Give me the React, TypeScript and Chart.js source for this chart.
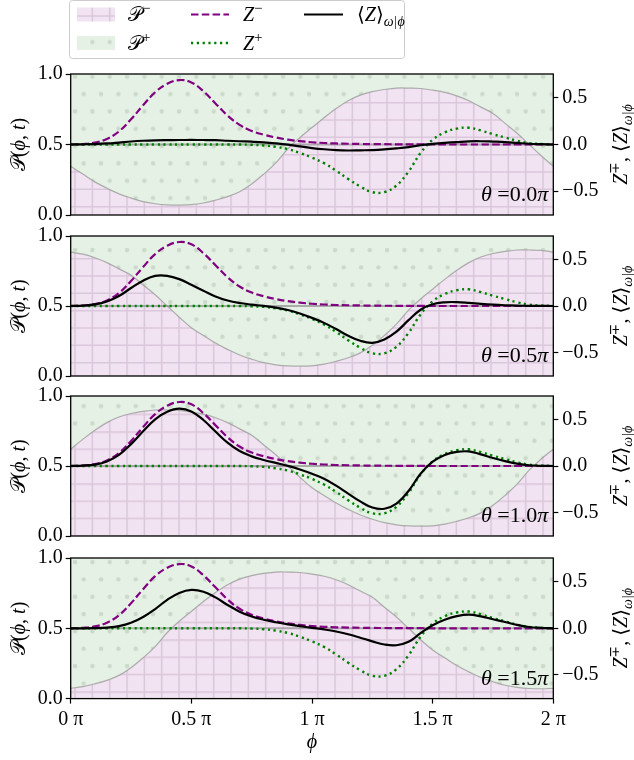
import React, { useEffect, useRef } from 'react';
import { Chart, registerables } from 'chart.js';

Chart.register(...registerables);

// ---------- data (phi in units of pi) ----------
const phi = [0, 0.05, 0.1, 0.15, 0.2, 0.25, 0.3, 0.35, 0.4, 0.45, 0.5, 0.55, 0.6, 0.65, 0.7, 0.75, 0.8, 0.85, 0.9, 0.95, 1, 1.05, 1.1, 1.15, 1.2, 1.25, 1.3, 1.35, 1.4, 1.45, 1.5, 1.55, 1.6, 1.65, 1.7, 1.75, 1.8, 1.85, 1.9, 1.95, 2];

const zMinus = [0, 0.005, 0.02, 0.06, 0.14, 0.27, 0.42, 0.56, 0.65, 0.69, 0.665, 0.57, 0.44, 0.31, 0.21, 0.145, 0.105, 0.075, 0.052, 0.036, 0.024, 0.016, 0.011, 0.008, 0.006, 0.004, 0.003, 0.002, 0.001, 0.001, 0, 0, 0, 0, 0, 0, 0, 0, 0, 0, 0];

const zPlus = [0, 0, 0, 0, 0, 0, 0, 0, 0, 0, 0, 0, 0, 0, 0, -0.003, -0.01, -0.025, -0.05, -0.09, -0.14, -0.2, -0.28, -0.37, -0.45, -0.51, -0.51, -0.44, -0.29, -0.09, 0.05, 0.13, 0.17, 0.18, 0.15, 0.11, 0.075, 0.04, 0.015, 0.005, 0];

// boundary between P- (below) and P+ (above), per theta
const pMinusTheta00 = [0.345, 0.29, 0.235, 0.19, 0.15, 0.12, 0.095, 0.08, 0.072, 0.07, 0.073, 0.085, 0.105, 0.13, 0.165, 0.22, 0.29, 0.37, 0.47, 0.55, 0.62, 0.69, 0.755, 0.81, 0.85, 0.875, 0.89, 0.9, 0.9, 0.897, 0.885, 0.87, 0.845, 0.81, 0.765, 0.72, 0.65, 0.58, 0.5, 0.42, 0.345];
const pMinusTheta05 = [0.885, 0.87, 0.845, 0.81, 0.765, 0.72, 0.65, 0.58, 0.5, 0.42, 0.345, 0.29, 0.235, 0.19, 0.15, 0.12, 0.095, 0.08, 0.072, 0.07, 0.073, 0.085, 0.105, 0.13, 0.165, 0.22, 0.29, 0.37, 0.47, 0.55, 0.62, 0.69, 0.755, 0.81, 0.85, 0.875, 0.89, 0.9, 0.9, 0.897, 0.885];
const pMinusTheta10 = [0.62, 0.69, 0.755, 0.81, 0.85, 0.875, 0.89, 0.9, 0.9, 0.897, 0.885, 0.87, 0.845, 0.81, 0.765, 0.72, 0.65, 0.58, 0.5, 0.42, 0.345, 0.29, 0.235, 0.19, 0.15, 0.12, 0.095, 0.08, 0.072, 0.07, 0.073, 0.085, 0.105, 0.13, 0.165, 0.22, 0.29, 0.37, 0.47, 0.55, 0.62];
const pMinusTheta15 = [0.073, 0.085, 0.105, 0.13, 0.165, 0.22, 0.29, 0.37, 0.47, 0.55, 0.62, 0.69, 0.755, 0.81, 0.85, 0.875, 0.89, 0.9, 0.9, 0.897, 0.885, 0.87, 0.845, 0.81, 0.765, 0.72, 0.65, 0.58, 0.5, 0.42, 0.345, 0.29, 0.235, 0.19, 0.15, 0.12, 0.095, 0.08, 0.072, 0.07, 0.073];

// <Z>_{omega|phi}, per theta
const zMeanTheta00 = [0, 0.002, 0.005, 0.011, 0.021, 0.032, 0.04, 0.045, 0.047, 0.048, 0.0485, 0.048, 0.046, 0.04, 0.035, 0.03, 0.023, 0.012, -0.002, -0.021, -0.038, -0.051, -0.06, -0.064, -0.062, -0.06, -0.053, -0.042, -0.028, -0.008, 0.006, 0.017, 0.026, 0.034, 0.035, 0.031, 0.026, 0.017, 0.008, 0.003, 0];
const zMeanTheta05 = [0, 0.004, 0.017, 0.049, 0.107, 0.194, 0.273, 0.325, 0.325, 0.29, 0.229, 0.165, 0.103, 0.059, 0.032, 0.015, 0.001, -0.017, -0.043, -0.081, -0.128, -0.182, -0.249, -0.321, -0.375, -0.397, -0.361, -0.277, -0.153, -0.04, 0.019, 0.04, 0.042, 0.034, 0.023, 0.014, 0.008, 0.004, 0.002, 0.001, 0];
const zMeanTheta10 = [0, 0.004, 0.015, 0.049, 0.119, 0.236, 0.374, 0.504, 0.585, 0.619, 0.589, 0.496, 0.372, 0.251, 0.161, 0.104, 0.065, 0.033, 0.001, -0.037, -0.083, -0.137, -0.212, -0.298, -0.382, -0.448, -0.461, -0.405, -0.269, -0.084, 0.046, 0.119, 0.152, 0.157, 0.125, 0.086, 0.053, 0.025, 0.008, 0.002, 0];
const zMeanTheta15 = [0, 0, 0.002, 0.008, 0.023, 0.059, 0.122, 0.207, 0.306, 0.38, 0.412, 0.393, 0.332, 0.251, 0.179, 0.127, 0.092, 0.065, 0.042, 0.023, 0.005, -0.012, -0.034, -0.064, -0.101, -0.14, -0.174, -0.182, -0.145, -0.052, 0.033, 0.092, 0.13, 0.146, 0.128, 0.097, 0.068, 0.037, 0.014, 0.005, 0];

const zeroLine = [0, 0, 0, 0, 0, 0, 0, 0, 0, 0, 0, 0, 0, 0, 0, 0, 0, 0, 0, 0, 0, 0, 0, 0, 0, 0, 0, 0, 0, 0, 0, 0, 0, 0, 0, 0, 0, 0, 0, 0, 0];

const thetaLabels = ['0.0', '0.5', '1.0', '1.5'];
const xTicks = [0, 0.5, 1, 1.5, 2];
const xTickLabels = ['0 π', '0.5 π', '1 π', '1.5 π', '2 π'];
const leftTicks = [0, 0.5, 1];
const rightTicks = [-0.5, 0, 0.5];

const boundaries = [pMinusTheta00, pMinusTheta05, pMinusTheta10, pMinusTheta15];
const means = [zMeanTheta00, zMeanTheta05, zMeanTheta10, zMeanTheta15];

// ---------- layout ----------
const W = 634;
const H = 760;
const AREA_L = 70.7;
const AREA_R = 553.3;
const PANEL_TOPS = [74, 234.5, 394.5, 556];
const PANEL_H = 142.6;
const Z_LIM = 0.755;
const SERIF = '"Liberation Serif", "DejaVu Serif", serif';
const PURPLE = '#800080';
const GREEN = '#008000';

type Part = { t: string; it?: boolean; sc?: number; dy?: number };

function drawRich(ctx: CanvasRenderingContext2D, parts: Part[], x: number, y: number, size: number, align: 'left' | 'center' | 'right') {
  const font = (p: Part) => `${p.it ? 'italic ' : ''}${(size * (p.sc ?? 1)).toFixed(2)}px ${SERIF}`;
  let total = 0;
  const widths = parts.map((p) => {
    ctx.font = font(p);
    const w = ctx.measureText(p.t).width;
    total += w;
    return w;
  });
  let cx = align === 'left' ? x : align === 'center' ? x - total / 2 : x - total;
  ctx.textAlign = 'left';
  ctx.textBaseline = 'alphabetic';
  parts.forEach((p, k) => {
    ctx.font = font(p);
    ctx.fillText(p.t, cx, y + (p.dy ?? 0) * size);
    cx += widths[k];
  });
}

function mod(a: number, m: number) {
  return ((a % m) + m) % m;
}

function makeHatch(ctx: CanvasRenderingContext2D, canvasTop: number) {
  const t = document.createElement('canvas');
  t.width = 52;
  t.height = 52;
  const g = t.getContext('2d')!;
  g.fillStyle = '#f1e3f1';
  g.fillRect(0, 0, 52, 52);
  g.strokeStyle = '#dbc7db';
  g.lineWidth = 1.5;
  for (let k = 0; k < 3; k++) {
    const p = (k * 52) / 3 + 1;
    g.beginPath();
    g.moveTo(p, 0);
    g.lineTo(p, 52);
    g.moveTo(0, p);
    g.lineTo(52, p);
    g.stroke();
  }
  const pat = ctx.createPattern(t, 'repeat')!;
  pat.setTransform(new DOMMatrix().translate(74, mod(189.3 - canvasTop - 1, 52 / 3)));
  return pat;
}

function makeDots(ctx: CanvasRenderingContext2D, canvasTop: number) {
  const t = document.createElement('canvas');
  t.width = 52;
  t.height = 104;
  const g = t.getContext('2d')!;
  g.fillStyle = '#e4f1e4';
  g.fillRect(0, 0, 52, 104);
  g.fillStyle = '#cbdacb';
  for (let j = 0; j < 6; j++) {
    const y = (j * 104) / 6 + 3;
    const off = j % 2 ? 26 / 3 : 0;
    for (let k = 0; k < 3; k++) {
      const x = (k * 52) / 3 + off + 3;
      g.beginPath();
      g.arc(x, y, 2.2, 0, Math.PI * 2);
      g.fill();
    }
  }
  const pat = ctx.createPattern(t, 'repeat')!;
  pat.setTransform(new DOMMatrix().translate(72, mod(76.7 - 3 - canvasTop, 104 / 3)));
  return pat;
}

const geoms = PANEL_TOPS.map((top, i) => {
  const bottom = top + PANEL_H;
  const cTop = i === 0 ? 0 : Math.floor(top - 14);
  const cBottom = i === 3 ? H : Math.ceil(bottom + 14);
  return { top, bottom, cTop, h: cBottom - cTop };
});

const pts = (ys: number[]) => phi.map((x, j) => ({ x, y: ys[j] }));

export default function App() {
  const canvases = useRef<(HTMLCanvasElement | null)[]>([]);

  useEffect(() => {
    const charts: Chart[] = [];
    geoms.forEach((g, i) => {
      const canvas = canvases.current[i];
      if (!canvas) return;
      const ctx = canvas.getContext('2d')!;
      const hatch = makeHatch(ctx, g.cTop);
      const dots = makeDots(ctx, g.cTop);
      const padTop = g.top - g.cTop;
      const padBottom = i === 3 ? 0 : g.cTop + g.h - g.bottom;

      const decor = {
        id: 'decor' + i,
        afterDatasetsDraw(chart: any) {
          const c = chart.ctx as CanvasRenderingContext2D;
          const a = chart.chartArea;
          c.save();
          c.strokeStyle = '#000';
          c.lineWidth = 1.3;
          c.strokeRect(a.left, a.top, a.right - a.left, a.bottom - a.top);
          c.fillStyle = '#000';
          drawRich(c, [{ t: 'θ', it: true }, { t: ' =' + thetaLabels[i] }, { t: 'π', it: true }], a.right - 5, a.bottom - 14, 22, 'right');
          c.restore();
        },
        afterDraw(chart: any) {
          const c = chart.ctx as CanvasRenderingContext2D;
          const a = chart.chartArea;
          const cy = (a.top + a.bottom) / 2;
          c.save();
          c.fillStyle = '#000';
          // left title
          c.save();
          c.translate(18, cy);
          c.rotate(-Math.PI / 2);
          drawRich(c, [{ t: '𝒫' }, { t: '(' }, { t: 'ϕ', it: true }, { t: ', ' }, { t: 't', it: true }, { t: ')' }], 0, 7, 20, 'center');
          c.restore();
          // right title
          c.save();
          c.translate(620, cy);
          c.rotate(-Math.PI / 2);
          drawRich(c, [{ t: 'Z', it: true }, { t: '∓', sc: 0.7, dy: -0.38 }, { t: ', ⟨' }, { t: 'Z', it: true }, { t: '⟩' }, { t: 'ω|ϕ', it: true, sc: 0.7, dy: 0.25 }], 0, 7, 20, 'center');
          c.restore();
          if (i === 3) {
            drawRich(c, [{ t: 'ϕ', it: true }], (a.left + a.right) / 2, H - 12 - g.cTop, 20, 'center');
          }
          if (i === 0) {
            // legend
            c.save();
            c.beginPath();
            c.roundRect(69.5, 0.5, 335, 58, 3);
            c.fillStyle = 'rgba(255,255,255,0.8)';
            c.fill();
            c.strokeStyle = '#cccccc';
            c.lineWidth = 1;
            c.stroke();
            const r1 = 14.5;
            const r2 = 43;
            c.fillStyle = hatch;
            c.fillRect(77, r1 - 7, 38, 14);
            c.fillStyle = dots;
            c.fillRect(77, r2 - 7, 38, 14);
            c.lineWidth = 2.2;
            c.strokeStyle = PURPLE;
            c.setLineDash([7.5, 3.3]);
            c.beginPath();
            c.moveTo(191, r1);
            c.lineTo(229, r1);
            c.stroke();
            c.strokeStyle = GREEN;
            c.lineWidth = 2.4;
            c.setLineDash([2.2, 3.6]);
            c.beginPath();
            c.moveTo(191, r2);
            c.lineTo(229, r2);
            c.stroke();
            c.setLineDash([]);
            c.strokeStyle = '#000';
            c.lineWidth = 2.2;
            c.beginPath();
            c.moveTo(304, r1);
            c.lineTo(343, r1);
            c.stroke();
            c.fillStyle = '#000';
            drawRich(c, [{ t: '𝒫' }, { t: '−', sc: 0.75, dy: -0.4 }], 128, r1 + 6.5, 20, 'left');
            drawRich(c, [{ t: '𝒫' }, { t: '+', sc: 0.75, dy: -0.4 }], 128, r2 + 6.5, 20, 'left');
            drawRich(c, [{ t: 'Z', it: true }, { t: '−', sc: 0.75, dy: -0.4 }], 243, r1 + 6.5, 20, 'left');
            drawRich(c, [{ t: 'Z', it: true }, { t: '+', sc: 0.75, dy: -0.4 }], 243, r2 + 6.5, 20, 'left');
            drawRich(c, [{ t: '⟨' }, { t: 'Z', it: true }, { t: '⟩' }, { t: 'ω|ϕ', it: true, sc: 0.7, dy: 0.25 }], 357, r1 + 6.5, 20, 'left');
            c.restore();
          }
          c.restore();
        },
      };

      const tickFont = { family: SERIF, size: 20 };
      const gridOpts = { display: true, drawOnChartArea: false, drawTicks: true, tickLength: 5, tickWidth: 1.2, tickColor: '#000' };

      const chart = new Chart(canvas, {
        type: 'line',
        data: {
          datasets: [
            { label: 'P-', data: pts(boundaries[i]), yAxisID: 'yL', fill: 'origin', backgroundColor: hatch, borderColor: 'rgba(150,150,150,0.75)', borderWidth: 1.2, order: 11 },
            { label: 'P+', data: pts(boundaries[i]), yAxisID: 'yL', fill: 'end', backgroundColor: dots, borderWidth: 0, borderColor: 'rgba(0,0,0,0)', order: 12 },
            { label: 'zero', data: pts(zeroLine), yAxisID: 'yR', borderColor: 'rgba(128,128,128,0.6)', borderWidth: 2, order: 5 },
            { label: 'Z-', data: pts(zMinus), yAxisID: 'yR', borderColor: PURPLE, borderDash: [7.5, 3.3], borderWidth: 2.2, order: 3 },
            { label: 'Z+', data: pts(zPlus), yAxisID: 'yR', borderColor: GREEN, borderDash: [2.2, 3.6], borderWidth: 2.4, order: 2 },
            { label: '<Z>', data: pts(means[i]), yAxisID: 'yR', borderColor: '#000', borderWidth: 2.2, order: 1 },
          ] as any,
        },
        options: {
          animation: false,
          responsive: false,
          devicePixelRatio: 1,
          parsing: false as any,
          layout: { padding: { top: padTop, bottom: padBottom, left: 0, right: 0 } },
          plugins: { legend: { display: false }, tooltip: { enabled: false } },
          elements: { point: { radius: 0 }, line: { tension: 0.4, cubicInterpolationMode: 'default', fill: false } },
          scales: {
            x: {
              type: 'linear',
              min: 0,
              max: 2,
              display: i === 3,
              position: 'bottom',
              afterBuildTicks: (s: any) => {
                s.ticks = xTicks.map((v) => ({ value: v }));
              },
              afterFit: (s: any) => {
                if (i === 3) s.height = H - g.bottom;
              },
              ticks: { callback: (_v: any, idx: number) => xTickLabels[idx], font: tickFont, color: '#000', padding: 4, maxRotation: 0, autoSkip: false },
              grid: gridOpts,
              border: { display: false },
            },
            yL: {
              type: 'linear',
              position: 'left',
              min: 0,
              max: 1,
              afterBuildTicks: (s: any) => {
                s.ticks = leftTicks.map((v) => ({ value: v }));
              },
              afterFit: (s: any) => {
                s.width = AREA_L;
              },
              ticks: { callback: (v: any) => Number(v).toFixed(1), font: tickFont, color: '#000', padding: 3 },
              grid: gridOpts,
              border: { display: false },
            },
            yR: {
              type: 'linear',
              position: 'right',
              min: -Z_LIM,
              max: Z_LIM,
              afterBuildTicks: (s: any) => {
                s.ticks = rightTicks.map((v) => ({ value: v }));
              },
              afterFit: (s: any) => {
                s.width = W - AREA_R;
              },
              ticks: { callback: (v: any) => (Number(v) < 0 ? '−' : '') + Math.abs(Number(v)).toFixed(1), font: tickFont, color: '#000', padding: 4 },
              grid: gridOpts,
              border: { display: false },
            },
          },
        } as any,
        plugins: [decor],
      });
      charts.push(chart);
    });
    return () => charts.forEach((c) => c.destroy());
  }, []);

  return (
    <div style={{ position: 'fixed', left: 0, top: 0, width: W, height: H, background: '#fff', overflow: 'hidden' }}>
      {geoms.map((g, i) => (
        <canvas
          key={i}
          ref={(el) => {
            canvases.current[i] = el;
          }}
          width={W}
          height={g.h}
          style={{ position: 'absolute', left: 0, top: g.cTop, width: W, height: g.h }}
        />
      ))}
    </div>
  );
}
